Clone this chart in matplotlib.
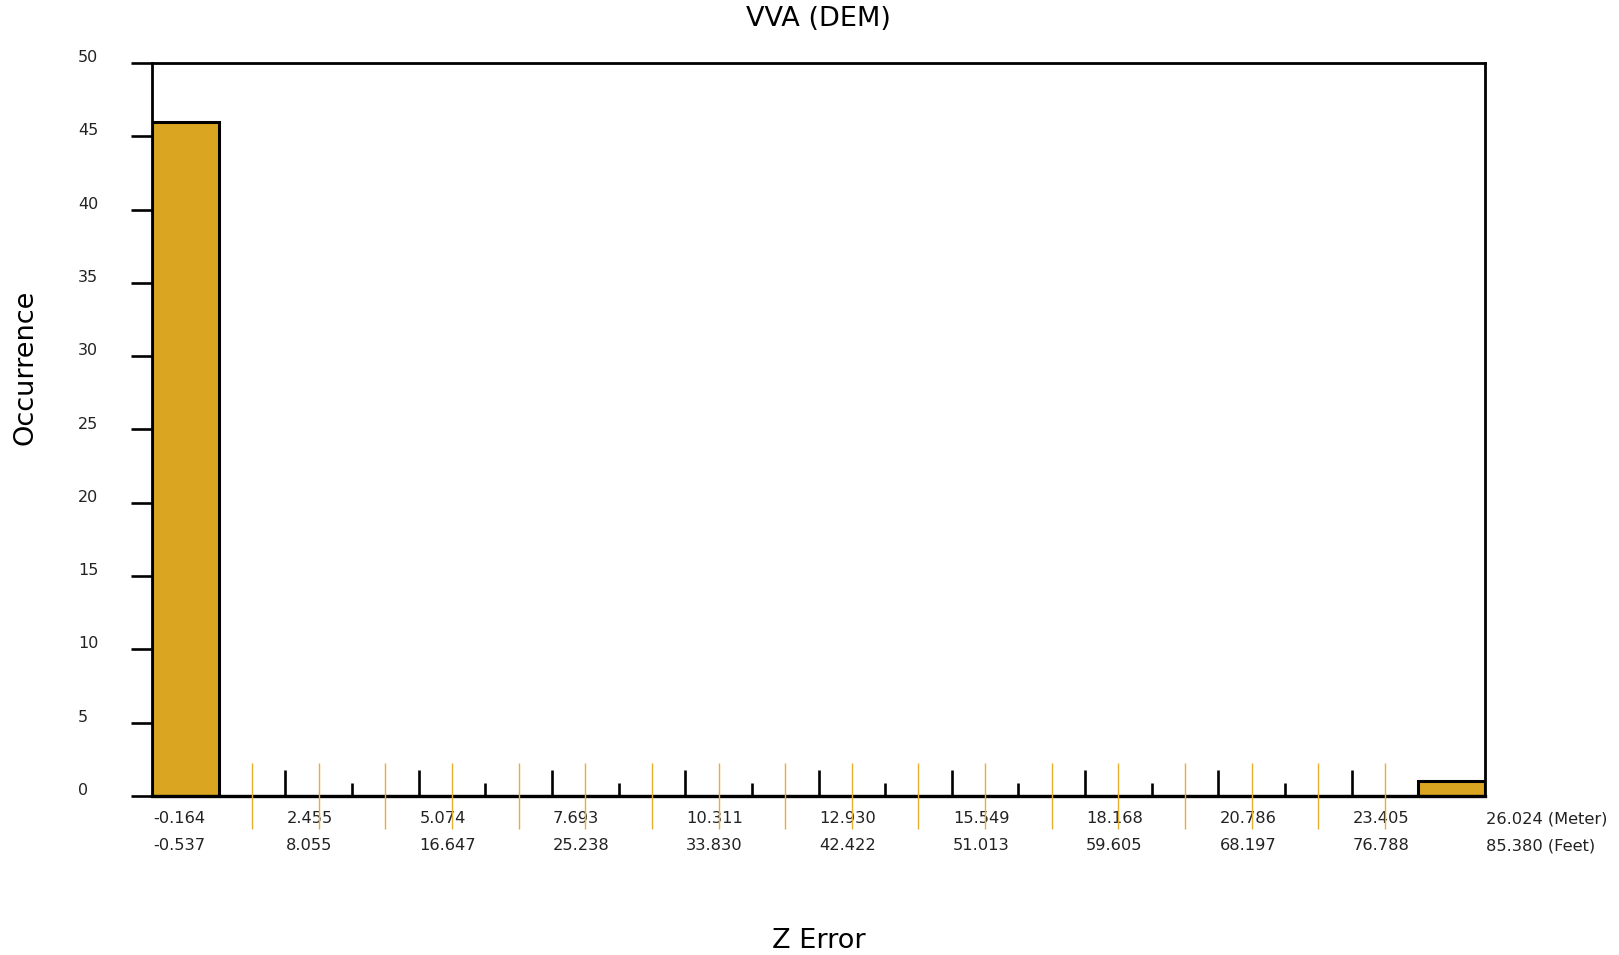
import numpy as np
import matplotlib.pyplot as plt
from matplotlib.transforms import blended_transform_factory

# histogram of z error, 20 bins between min and max (meters)
z_min = -0.164
z_max = 26.024
counts = [46, 0, 0, 0, 0, 0, 0, 0, 0, 0, 0, 0, 0, 0, 0, 0, 0, 0, 0, 1]
meter_labels = ["-0.164", "2.455", "5.074", "7.693", "10.311", "12.930",
                "15.549", "18.168", "20.786", "23.405", "26.024 (Meter)"]
feet_labels = ["-0.537", "8.055", "16.647", "25.238", "33.830", "42.422",
               "51.013", "59.605", "68.197", "76.788", "85.380 (Feet)"]
y_ticks = [0, 5, 10, 15, 20, 25, 30, 35, 40, 45, 50]

gold = "#DAA520"
edges = np.linspace(z_min, z_max, len(counts) + 1)
width = edges[1] - edges[0]

fig = plt.figure(figsize=(16.19, 9.55), dpi=100)
ax = fig.add_axes([152 / 1619, 1 - 796 / 955, (1485 - 152) / 1619, (796 - 63) / 955])

ax.bar(edges[:-1], counts, width=width, align="edge", color=gold,
       edgecolor="black", linewidth=2.2)
ax.set_xlim(z_min, z_max)
ax.set_ylim(0, 50)

for side in ["left", "top", "right"]:
    ax.spines[side].set_linewidth(2)
ax.spines["bottom"].set_linewidth(2.4)

# x ticks: major every 2 bins, minor on odd bins, drawn inward
ax.set_xticks(edges[2:-1:2])
ax.set_xticks(edges[3:-2:2], minor=True)
ax.tick_params(axis="x", which="major", direction="in", length=19, width=1.9,
               labelbottom=False)
ax.tick_params(axis="x", which="minor", direction="in", length=9.5, width=1.9)

# y ticks outward, labels placed by hand (left-aligned, sitting on the tick)
ax.set_yticks(y_ticks)
ax.tick_params(axis="y", direction="out", length=15, width=1.9, labelleft=False)
ytr = blended_transform_factory(ax.transAxes, ax.transData)
for v in y_ticks:
    ax.annotate(str(v), xy=(0, v), xycoords=ytr, xytext=(-74, 1),
                textcoords="offset pixels", ha="left", va="baseline",
                fontsize=11.5, color="#222222")

# orange marks at bin centres between the labelled ticks
xtr = ax.get_xaxis_transform()
centres = edges[:-1] + width / 2
ax.vlines(centres[1:-1], -0.045, 0.045, transform=xtr, color="#E8B030",
          linewidth=1, clip_on=False, zorder=5)

# two-row tick labels (meters and feet)
for x, m, f in zip(edges[::2], meter_labels, feet_labels):
    ax.annotate(m, xy=(x, 0), xycoords=xtr, xytext=(1, -27),
                textcoords="offset pixels", ha="left", va="baseline",
                fontsize=11.7, color="#222222")
    ax.annotate(f, xy=(x, 0), xycoords=xtr, xytext=(1, -54),
                textcoords="offset pixels", ha="left", va="baseline",
                fontsize=11.7, color="#222222")

ax.set_title("VVA (DEM)", fontsize=19.5, pad=27)
fig.text(26 / 1619, 1 - 367 / 955, "Occurrence", rotation=90, fontsize=19.5,
         ha="center", va="center")
fig.text(819 / 1619, 1 - 941 / 955, "Z Error", fontsize=19.5,
         ha="center", va="center")

fig.savefig("out.png", dpi=100)
